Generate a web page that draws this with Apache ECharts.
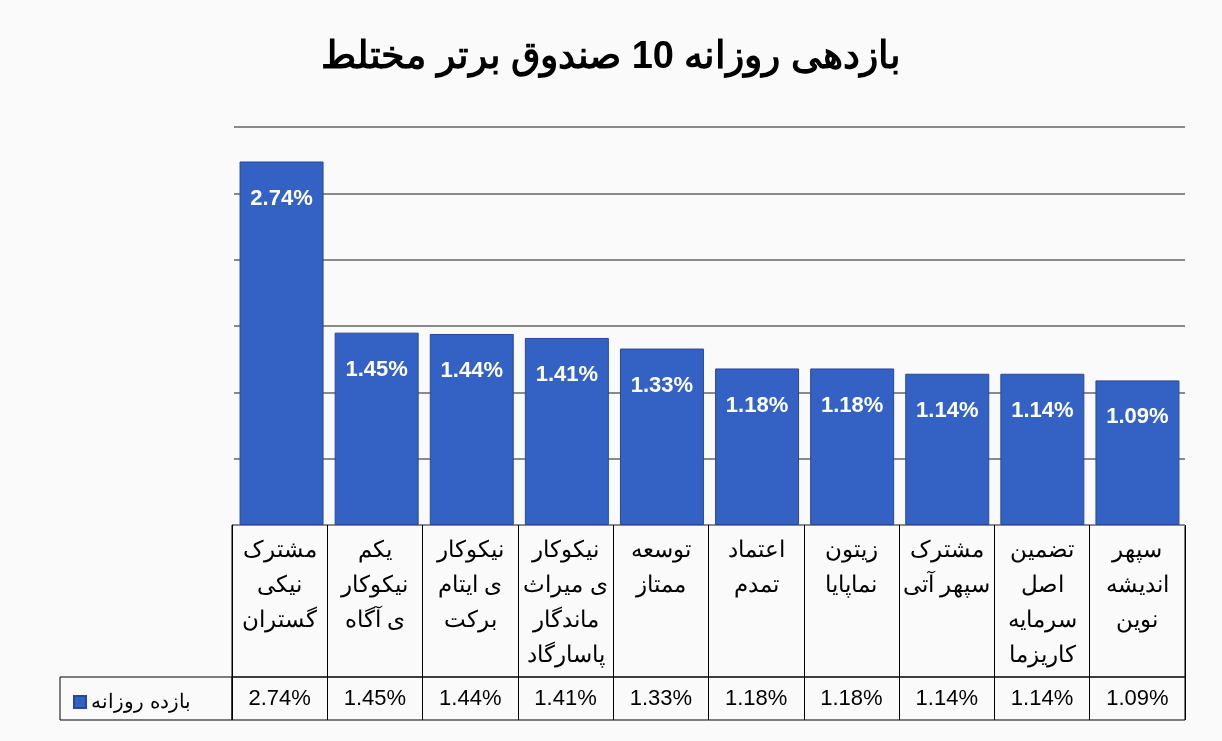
<!DOCTYPE html>
<html lang="fa">
<head>
<meta charset="UTF-8">
<title>chart</title>
<script src="https://cdn.jsdelivr.net/npm/echarts@6/dist/echarts.min.js"></script>
<style>
  body { margin: 0; background: #fafafa; }
  #main canvas { direction: rtl; }
</style>
</head>
<body>
<div id="main" style="width:1222px;height:741px;"></div>
<script>
var names = [
  'مشترک\nنیکی\nگستران', 'یکم\nنیکوکار\nی آگاه', 'نیکوکار\nی ایتام\nبرکت',
  'نیکوکار\nی میراث\nماندگار\nپاسارگاد', 'توسعه\nممتاز', 'اعتماد\nتمدم',
  'زیتون\nنماپایا', 'مشترک\nسپهر آتی', 'تضمین\nاصل\nسرمایه\nکاریزما', 'سپهر\nاندیشه\nنوین'
];
var values = [2.74, 1.45, 1.44, 1.41, 1.33, 1.18, 1.18, 1.14, 1.14, 1.09];
var seriesName = 'بازده روزانه';

var chart = echarts.init(document.getElementById('main'));
var font = 'Arial, "Liberation Sans", "Noto Sans", sans-serif';

chart.setOption({
  backgroundColor: '#fafafa',
  textStyle: { fontFamily: font },
  title: {
    text: 'بازدهی روزانه 10 صندوق برتر مختلط',
    left: 'center', top: 34,
    textStyle: { fontSize: 38, fontWeight: 'bold', color: '#000', fontFamily: font }
  },
  legend: {
    left: 68, top: 687, itemWidth: 12, itemHeight: 12, itemGap: 6,
    data: [{ name: seriesName, icon: 'rect' }],
    textStyle: { fontSize: 20, color: '#000' }
  },
  grid: [
    { left: 234, right: 37, top: 127, bottom: 216 },
    { left: 232, right: 37, top: 525, bottom: 64, show: true, borderColor: '#000', borderWidth: 1 },
    { left: 232, right: 37, top: 677, bottom: 21, show: true, borderColor: '#000', borderWidth: 1 }
  ],
  xAxis: [
    { gridIndex: 0, type: 'category', data: names, axisLine: { show: false }, axisTick: { show: false }, axisLabel: { show: false } },
    { gridIndex: 1, type: 'category', data: names, position: 'top',
      axisLine: { show: false }, axisTick: { show: false },
      splitLine: { show: true, interval: 0, lineStyle: { color: '#000', width: 1 } },
      axisLabel: { inside: true, interval: 0, verticalAlign: 'top', margin: 8, fontSize: 23, lineHeight: 35, color: '#000', fontWeight: 500 } },
    { gridIndex: 2, type: 'category', data: values.map(function (v) { return v.toFixed(2) + '%'; }),
      axisLine: { show: false }, axisTick: { show: false },
      splitLine: { show: true, interval: 0, lineStyle: { color: '#000', width: 1 } },
      axisLabel: { interval: 0, margin: -32, fontSize: 22, color: '#000' } }
  ],
  yAxis: [
    { gridIndex: 0, type: 'value', min: 0, max: 3, interval: 0.5, axisLabel: { show: false },
      axisLine: { show: false }, axisTick: { show: false },
      splitLine: { lineStyle: { color: '#8a8a8a', width: 2 } } },
    { gridIndex: 1, type: 'value', show: false },
    { gridIndex: 2, type: 'value', show: false }
  ],
  graphic: [
    { type: 'rect', shape: { x: 60, y: 677, width: 172, height: 43 }, style: { fill: 'none', stroke: '#000', lineWidth: 1 } }
  ],
  series: [{
    name: seriesName, type: 'bar', xAxisIndex: 0, yAxisIndex: 0,
    data: values, barWidth: 84,
    itemStyle: { color: '#3462c4', borderColor: '#27489a', borderWidth: 1 },
    label: {
      show: true, position: 'insideTop', distance: 26,
      formatter: function (p) { return p.value.toFixed(2) + '%'; },
      color: '#fff', fontWeight: 'bold', fontSize: 22
    }
  }]
});
</script>
</body>
</html>
